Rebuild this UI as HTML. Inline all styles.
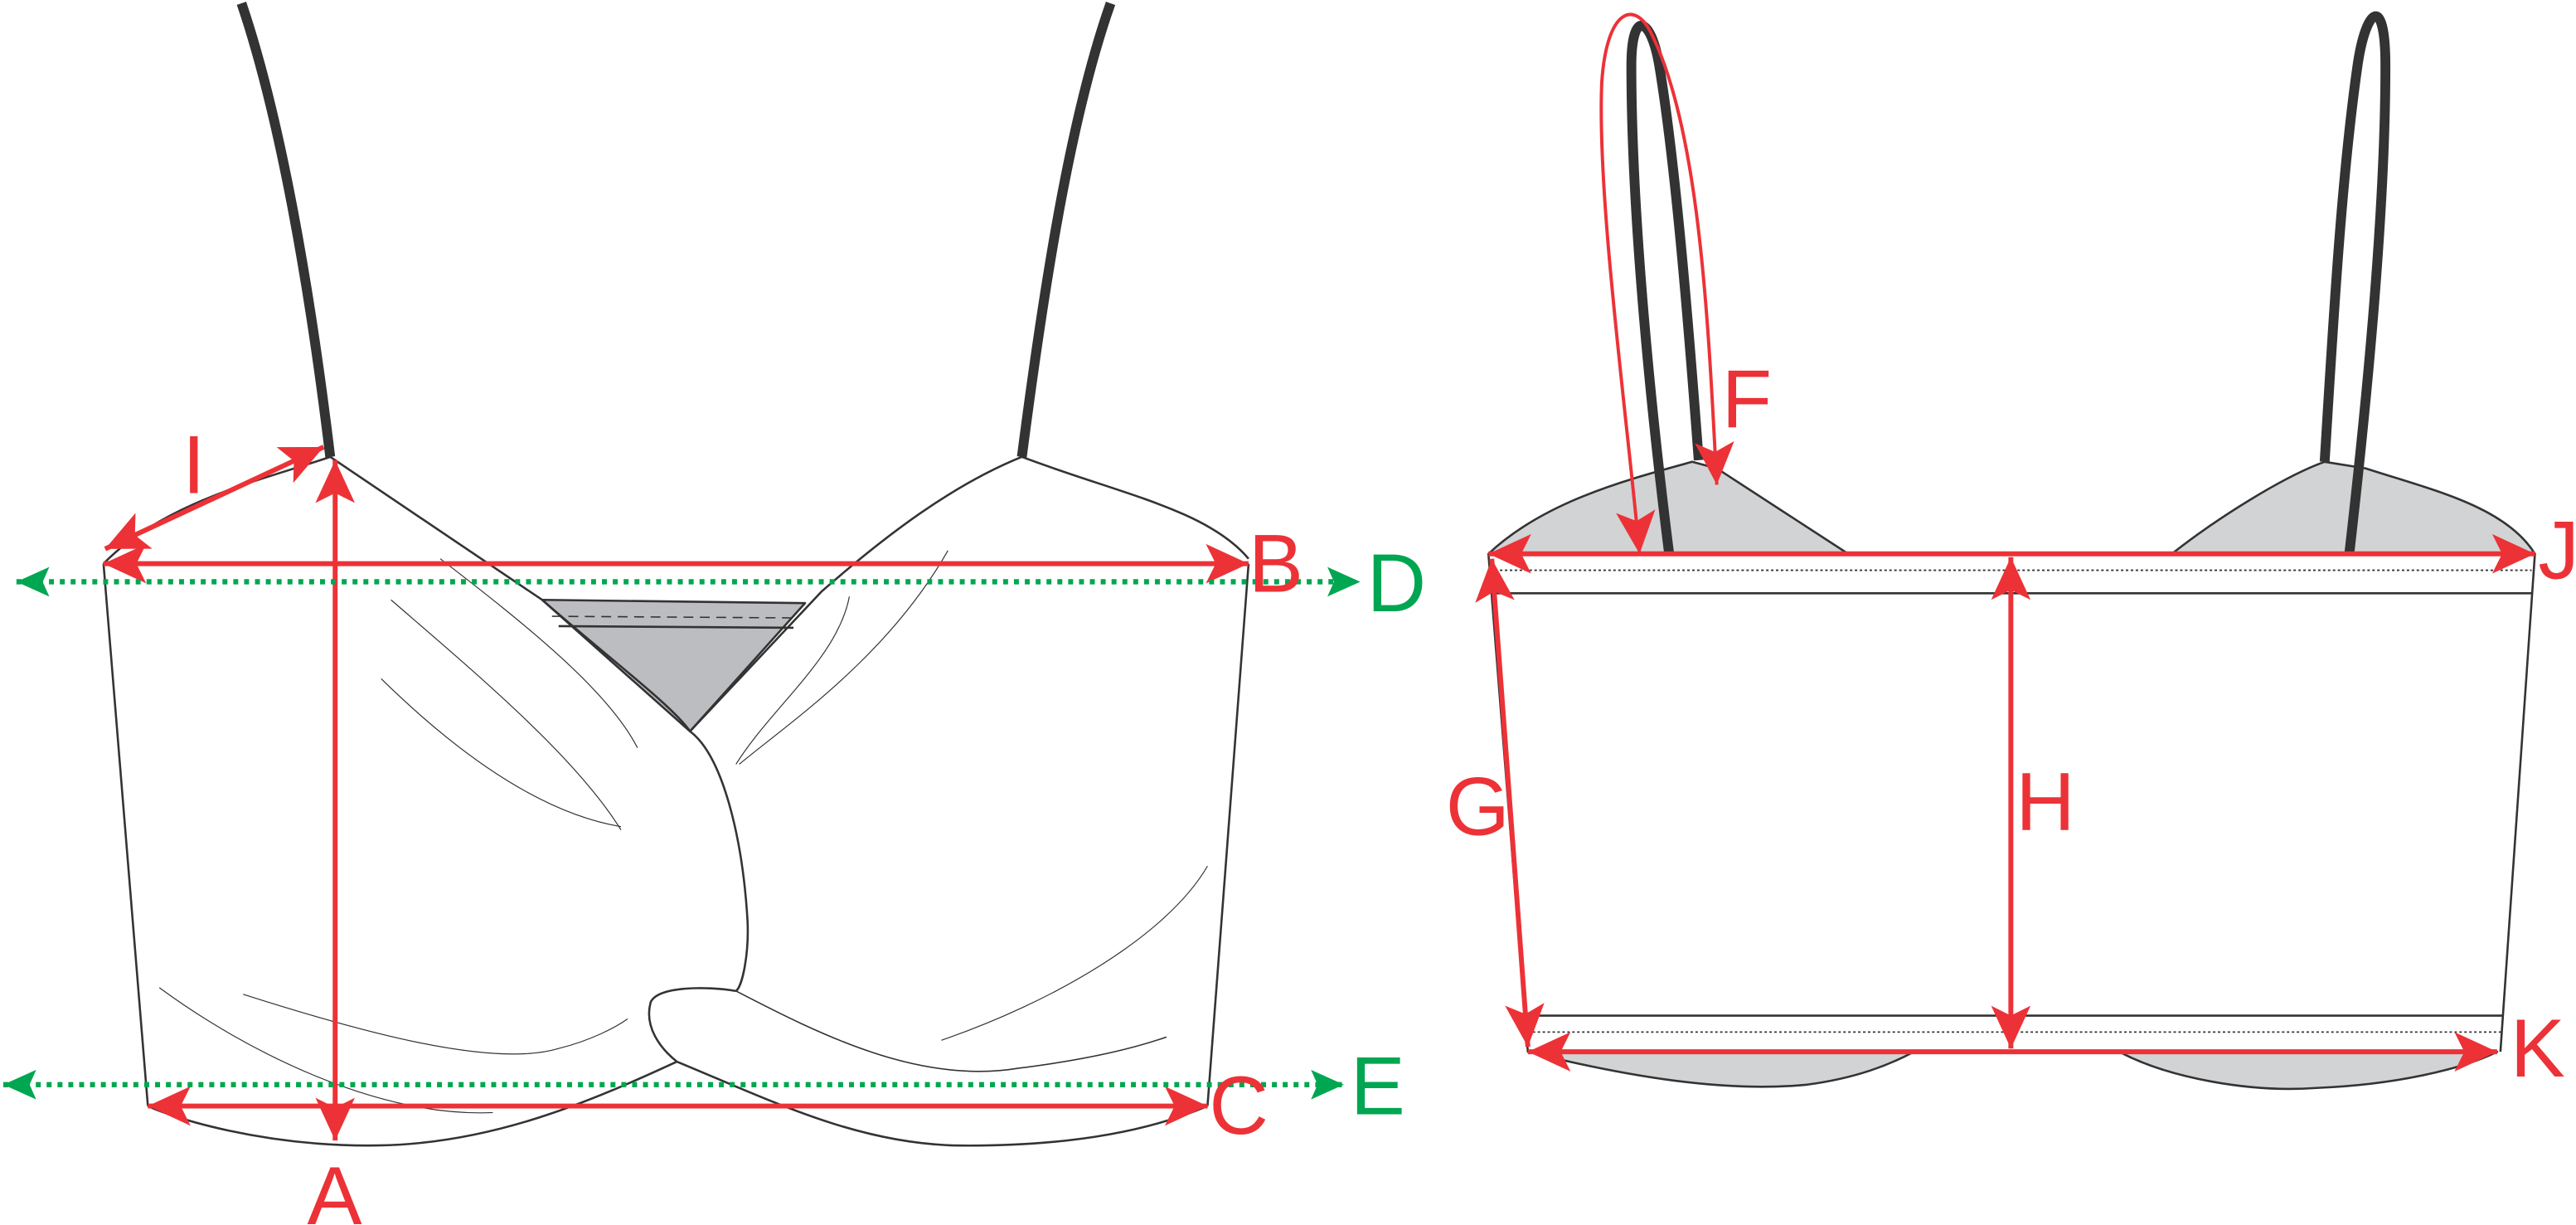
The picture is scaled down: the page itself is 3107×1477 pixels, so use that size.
<!DOCTYPE html>
<html><head><meta charset="utf-8"><style>html,body{margin:0;padding:0;background:#fff}svg{display:block}</style></head>
<body>
<svg width="3107" height="1477" viewBox="0 0 1568 745.4" xmlns="http://www.w3.org/2000/svg">
<defs>
<marker id="ar" markerUnits="userSpaceOnUse" markerWidth="30" markerHeight="26" refX="26" refY="12" orient="auto-start-reverse" viewBox="0 0 30 26">
<path d="M0,0 L26,12 L0,24 L6,12 Z" fill="#ec3237"/></marker>
<marker id="ag" markerUnits="userSpaceOnUse" markerWidth="22" markerHeight="20" refX="20" refY="9" orient="auto-start-reverse" viewBox="0 0 22 20">
<path d="M0,0 L20,9 L0,18 L4,9 Z" fill="#00a651"/></marker>
</defs>
<g fill="none" stroke="#333" stroke-linejoin="round">
<path d="M147,2 C170,70 188,170 201,278" stroke-width="6"/>
<path d="M676,2 C652,70 636,170 622,278" stroke-width="6"/>
<path d="M63,343 C100,305 160,292 201,278" stroke-width="1.3"/>
<path d="M622,278 C680,300 735,310 760,340" stroke-width="1.3"/>
<path d="M63,343 L90,673" stroke-width="1.3"/>
<path d="M760,343 L735,673" stroke-width="1.3"/>
<path d="M330,365 L490,367 L420,445 Z" fill="#bcbdc0" stroke-width="1.3"/>
<path d="M340,381 L483,382" stroke-width="1.3"/>
<path d="M336,375 L485,376" stroke-width="0.8" stroke-dasharray="6 4"/>
<path d="M201,278 L330,365 C370,400 410,430 420,445 C440,460 452,510 455,560 C456,580 452,600 448,603" stroke-width="1.3"/>
<path d="M622,278 C580,295 540,325 500,360 L420,445" stroke-width="1.3"/>
<path d="M448,603 C430,600 400,600 396,610 C392,625 402,638 412,646" stroke-width="1.3"/>
<path d="M448,603 C500,630 560,660 620,650 C660,645 690,638 710,631" stroke-width="0.8"/>
<path d="M90,673 C105,680 160,698 230,697 C300,696 360,670 412,646 C470,670 520,695 580,697 C650,698 700,688 735,673" stroke-width="1.3"/>
<g stroke-width="0.6">
<path d="M268,340 C320,380 370,420 388,455"/>
<path d="M238,365 C290,410 350,460 378,505"/>
<path d="M232,413 C280,460 330,495 378,503"/>
<path d="M577,335 C540,400 480,440 450,465"/>
<path d="M517,363 C510,400 470,430 448,465"/>
<path d="M97,601 C150,640 230,680 300,677"/>
<path d="M148,605 C220,628 300,650 340,638 C360,633 375,625 382,620"/>
<path d="M735,527 C710,570 640,610 573,633"/>
</g>
<path d="M906,337 C940,305 990,292 1030,281 L1045,285 L1125,337 Z" fill="#d1d3d4" stroke-width="1.3"/>
<path d="M1322,337 C1350,315 1390,290 1415,281 L1440,285 C1480,298 1525,308 1543,337 Z" fill="#d1d3d4" stroke-width="1.3"/>
<path d="M930,640 C990,655 1050,665 1100,660 C1130,656 1150,648 1165,640 Z" fill="#d1d3d4" stroke-width="1.3"/>
<path d="M1290,640 C1320,656 1370,665 1410,662 C1460,660 1500,650 1520,640 Z" fill="#d1d3d4" stroke-width="1.3"/>
<path d="M906,337 L1543,337 L1522,637 L930,637 Z" fill="#fff" stroke="none"/>
<path d="M906,337 L930,640 M1543,337 L1522,640" stroke-width="1.3"/>
<path d="M910,361 L1541,361 M930,618 L1523,618" stroke-width="1.3"/>
<path d="M910,347 L1541,347 M930,628 L1523,628" stroke-width="0.9" stroke-dasharray="1.5 1.5"/>
<path d="M1016,337 C1005,250 993,130 993,40 C993,5 1005,10 1010,40 C1020,100 1028,200 1034,280" stroke-width="6"/>
<path d="M1430,337 C1440,250 1452,130 1452,40 C1452,-5 1440,5 1435,40 C1425,110 1420,200 1415,281" stroke-width="6"/>
</g>
<g stroke="#ec3237" stroke-width="3" fill="none">
<line x1="64" y1="334" x2="197" y2="272" marker-start="url(#ar)" marker-end="url(#ar)"/>
<line x1="63" y1="343" x2="760" y2="343" marker-start="url(#ar)" marker-end="url(#ar)"/>
<line x1="204" y1="280" x2="204" y2="694" marker-start="url(#ar)" marker-end="url(#ar)"/>
<line x1="90" y1="673" x2="735" y2="673" marker-start="url(#ar)" marker-end="url(#ar)"/>
<line x1="906" y1="337" x2="1543" y2="337" marker-start="url(#ar)" marker-end="url(#ar)"/>
<line x1="1224" y1="339" x2="1224" y2="638" marker-start="url(#ar)" marker-end="url(#ar)"/>
<line x1="908" y1="340" x2="930" y2="637" marker-start="url(#ar)" marker-end="url(#ar)"/>
<line x1="930" y1="640" x2="1520" y2="640" marker-start="url(#ar)" marker-end="url(#ar)"/>
<path d="M1045,295 C1040,200 1035,80 1005,20 C995,0 978,5 975,50 C972,120 990,250 998,337" stroke-width="2" marker-start="url(#ar)" marker-end="url(#ar)"/>
</g>
<g stroke="#00a651" stroke-width="3.2" stroke-dasharray="3 3.6" fill="none">
<line x1="10" y1="354" x2="828" y2="354" marker-start="url(#ag)" marker-end="url(#ag)"/>
<line x1="2" y1="660" x2="818" y2="660" marker-start="url(#ag)" marker-end="url(#ag)"/>
</g>
<g font-family="Liberation Sans, sans-serif" font-size="50" fill="#ec3237">
<text x="111" y="300">I</text>
<text x="760" y="360">B</text>
<text x="187" y="745">A</text>
<text x="736" y="690">C</text>
<text x="1048" y="260">F</text>
<text x="880" y="508">G</text>
<text x="1227" y="505">H</text>
<text x="1545" y="352">J</text>
<text x="1528" y="655">K</text>
</g>
<g font-family="Liberation Sans, sans-serif" font-size="50" fill="#00a651">
<text x="832" y="372">D</text>
<text x="822" y="678">E</text>
</g>
</svg>
</body></html>
